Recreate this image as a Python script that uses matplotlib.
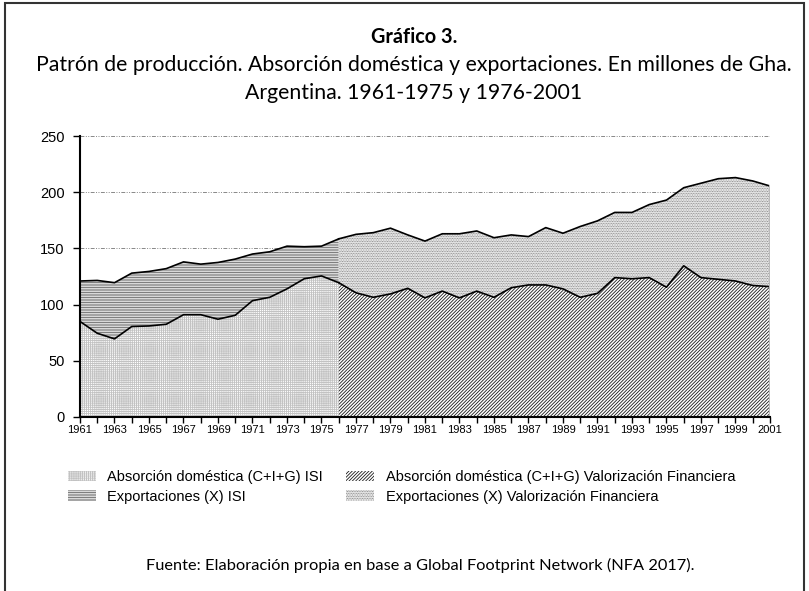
import matplotlib
matplotlib.use("Agg")
import matplotlib.pyplot as plt
from matplotlib.patches import Patch, Rectangle
import numpy as np

plt.rcParams['hatch.linewidth'] = 0.6

# ---- data (millions of Gha) ----
years_isi = list(range(1961, 1977))
dom_isi = [85.0, 74.5, 69.5, 80.5, 81.0, 82.5, 91.0, 91.0, 87.0, 90.5,
           103.5, 106.5, 114.0, 123.0, 125.5, 119.5]
exp_isi = [36.0, 47.0, 50.0, 47.5, 48.5, 49.5, 47.0, 45.0, 50.5, 50.0,
           41.5, 40.5, 38.0, 28.5, 26.5, 39.0]

years_vf = list(range(1976, 2002))
dom_vf = [119.5, 110.5, 106.5, 109.5, 114.5, 106.0, 112.0, 106.0, 112.0, 106.5,
          115.0, 117.5, 117.5, 114.0, 106.5, 110.0, 124.0, 123.0, 124.0, 115.5,
          134.5, 124.0, 122.5, 121.0, 117.0, 116.0]
exp_vf = [39.0, 52.0, 57.5, 58.5, 47.5, 50.5, 51.0, 57.0, 53.5, 53.0,
          47.0, 43.0, 51.0, 49.5, 63.0, 64.5, 58.0, 59.0, 65.0, 77.5,
          69.5, 84.0, 89.5, 92.0, 93.0, 89.5]

labels = ["Absorción doméstica (C+I+G) ISI",
          "Exportaciones (X) ISI",
          "Absorción doméstica (C+I+G) Valorización Financiera",
          "Exportaciones (X) Valorización Financiera"]

title = "Gráfico 3."
subtitle = ("Patrón de producción. Absorción doméstica y exportaciones. En millones de Gha.\n"
            "Argentina. 1961-1975 y 1976-2001")
source = "Fuente: Elaboración propia en base a Global Footprint Network (NFA 2017)."

# ---- styles ----
H_DOM_ISI = dict(hatch='+' * 8, edgecolor='#c2c2c2')
H_EXP_ISI = dict(hatch='-' * 10, edgecolor='#666666')
H_DOM_VF = dict(hatch='/' * 10, edgecolor='#1a1a1a')
H_EXP_VF = dict(hatch='.' * 10, edgecolor='#707070')
styles = [H_DOM_ISI, H_EXP_ISI, H_DOM_VF, H_EXP_VF]

fig = plt.figure(figsize=(8.09, 5.91), dpi=100)
ax = fig.add_axes([80/809, 1-417/591, 690/809, 281/591])

yi = np.array(years_isi); yv = np.array(years_vf)
di = np.array(dom_isi); ei = np.array(exp_isi)
dv = np.array(dom_vf); ev = np.array(exp_vf)

ax.fill_between(yi, 0, di, facecolor='white', linewidth=0, **H_DOM_ISI, zorder=2)
ax.fill_between(yi, di, di + ei, facecolor='white', linewidth=0, **H_EXP_ISI, zorder=2)
ax.fill_between(yv, 0, dv, facecolor='white', linewidth=0, **H_DOM_VF, zorder=2)
ax.fill_between(yv, dv, dv + ev, facecolor='white', linewidth=0, **H_EXP_VF, zorder=2)

for x, d, e in ((yi, di, ei), (yv, dv, ev)):
    ax.plot(x, d, color='black', lw=1.2, zorder=3)
    ax.plot(x, d + e, color='black', lw=1.2, zorder=3)
ax.plot([yv[-1], yv[-1]], [0, dv[-1] + ev[-1]], color='#bbbbbb', lw=1.5, zorder=3)

ax.set_xlim(1961, 2001)
ax.set_ylim(0, 250)
ax.set_yticks(np.arange(0, 251, 50))
all_years = np.arange(1961, 2002)
ax.set_xticks(all_years)
ax.set_xticklabels([str(y) if (y - 1961) % 2 == 0 else '' for y in all_years])
ax.tick_params(axis='x', labelsize=8, length=4, width=1, direction='out', pad=2)
ax.tick_params(axis='y', labelsize=10.5, length=5, width=1, direction='out', pad=6)
for lab in ax.get_xticklabels() + ax.get_yticklabels():
    lab.set_fontfamily('Liberation Sans')
for s in ('top', 'right'):
    ax.spines[s].set_visible(False)
for s in ('left', 'bottom'):
    ax.spines[s].set_linewidth(1.5)
ax.grid(axis='y', color='#888888', lw=0.7, dashes=(4, 1.5, 1, 1.5, 1, 1.5), zorder=1)
ax.set_axisbelow(True)
ax.spines['left'].set_zorder(4)
ax.spines['bottom'].set_zorder(4)

# titles
fig.text(414/809, 1-37/591, title, ha='center', va='center', fontsize=14.3,
         fontweight='bold', family='Lato')
fig.text(414/809, 1-79/591, subtitle, ha='center', va='center', fontsize=15.3,
         family='Lato', linespacing=1.45)
fig.text(420/809, 1-565/591, source, ha='center', va='center', fontsize=11.8,
         family='Lato')

handles = [Patch(facecolor='white', linewidth=0, **st) for st in styles]
fig.legend(handles, labels, ncol=2, loc='upper left',
           bbox_to_anchor=(68/809, 1-470/591), frameon=False,
           prop={'family': 'Liberation Sans', 'size': 10.5},
           handlelength=1.9, handleheight=0.75, handletextpad=0.8,
           columnspacing=1.6, labelspacing=0.4, borderpad=0, borderaxespad=0)

fig.patches.append(Rectangle((5/809, -0.01), 799/809, 1 - 3/591 + 0.01,
                             transform=fig.transFigure, fill=False,
                             edgecolor='#333333', lw=1.5))

fig.savefig('out.png', dpi=100)
